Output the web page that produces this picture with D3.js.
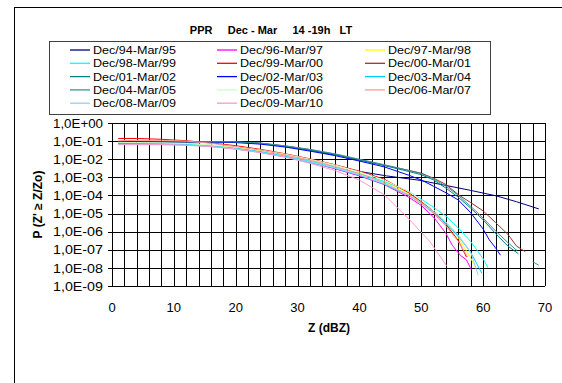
<!DOCTYPE html>
<html><head><meta charset="utf-8">
<script src="https://cdn.jsdelivr.net/npm/d3@7"></script>
<style>body{margin:0;background:#fff}svg{display:block;font-family:"Liberation Sans",Arial,sans-serif}</style>
</head><body><svg id="c" width="562" height="383"></svg>
<script>
// ---- data: [Z (dBZ), P(Z' >= Z/Zo)], null = gap ----
const dec94 = [[1,9.5e-2],[4,9.5e-2],[8,9.3e-2],[12,9.3e-2],[16,9.3e-2],[20,9.1e-2],[24,7.4e-2],[28,5.2e-2],[32,3.2e-2],[36,1.7e-2],[38,null],[40.4,2.0e-3],[44.4,1.2e-3],[49.8,6.8e-4],[54.1,3.5e-4],[58,1.9e-4],[62.2,9.3e-5],[65.4,4.5e-5],[69,1.8e-5]];
const dec96 = [[1,8.9e-2],[4,8.9e-2],[8,8.5e-2],[12,7.6e-2],[16,6.0e-2],[20,4.2e-2],[24,2.6e-2],[28,1.4e-2],[32,6.8e-3],[36,3.0e-3],[40,1.2e-3],[44,4.0e-4],[48,7.9e-5],[50,2.8e-5],[52,6.3e-6],[54,7.9e-7],[55,1.8e-7],[56.3,5.0e-8],[57.3,2.8e-8],[58.1,7.9e-9]];
const dec97 = [[1,7.9e-2],[4,7.9e-2],[8,7.9e-2],[12,7.2e-2],[16,6.0e-2],[20,4.5e-2],[24,3.0e-2],[28,1.7e-2],[32,8.5e-3],[36,4.0e-3],[40,1.7e-3],[44,5.6e-4],[48,1.3e-4],[50,4.5e-5],[52,1.3e-5],[54,2.8e-6],[56,4.5e-7],[58,3.5e-8],[58.7,1.1e-8]];
const dec98 = [[1,7.6e-2],[4,7.6e-2],[8,7.4e-2],[12,6.8e-2],[16,5.5e-2],[20,4.0e-2],[24,2.6e-2],[28,1.5e-2],[32,7.9e-3],[36,3.8e-3],[40,1.6e-3],[44,6.0e-4],[48,1.6e-4],[50,6.3e-5],[52,2.2e-5],[54,7.1e-6],[56,1.6e-6],[58,2.8e-7],[60,3.2e-8],[60.8,1.0e-8]];
const dec99 = [[1,1.4e-1],[4,1.4e-1],[8,1.26e-1],[12,1.05e-1],[16,7.9e-2],[20,5.6e-2],[24,3.5e-2],[28,2.0e-2],[32,1.05e-2],[36,5.0e-3],[40,2.2e-3],[44,7.9e-4],[48,1.4e-4],[50,4.5e-5],[52,1.3e-5],[54,2.5e-6],[56,3.2e-7],[57.3,4.0e-8]];
const dec00 = [[1,7.9e-2],[4,8.3e-2],[8,8.7e-2],[12,8.9e-2],[16,9.1e-2],[20,8.9e-2],[24,7.6e-2],[28,5.4e-2],[32,3.4e-2],[36,1.9e-2],[40,9.3e-3],[44,4.7e-3],[48,2.4e-3],[50,1.7e-3],[52,8.9e-4],[54,4.0e-4],[56,1.1e-4],[58,4.0e-5],[60,1.4e-5],[62,3.2e-6],[64,7.1e-7],[65.4,1.6e-7],[66.8,7.9e-8]];
const dec01 = [[1,7.6e-2],[4,7.9e-2],[8,8.5e-2],[12,8.9e-2],[16,9.1e-2],[20,8.7e-2],[24,7.4e-2],[28,5.2e-2],[32,3.2e-2],[36,1.8e-2],[40,8.9e-3],[44,4.5e-3],[48,2.1e-3],[50,1.4e-3],[52,7.1e-4],[54,2.5e-4],[56,7.9e-5],[58,2.0e-5],[60,4.5e-6],[62,7.9e-7],[64,1.6e-7],[65.7,6.0e-8]];
const dec02 = [[1,8.9e-2],[4,8.9e-2],[8,9.1e-2],[12,9.1e-2],[16,8.9e-2],[20,8.3e-2],[24,6.8e-2],[28,4.7e-2],[32,2.8e-2],[36,1.6e-2],[40,7.9e-3],[44,3.8e-3],[48,1.3e-3],[50,7.1e-4],[52,3.2e-4],[54,1.4e-4],[56,5.6e-5],[58,1.1e-5],[60,1.4e-6],[61,3.5e-7],[62,1.3e-7],[62.8,5.0e-8]];
const dec03 = [[1,7.1e-2],[4,7.1e-2],[8,6.9e-2],[12,6.3e-2],[16,5.1e-2],[20,3.7e-2],[24,2.4e-2],[28,1.35e-2],[32,6.8e-3],[36,3.2e-3],[40,1.3e-3],[44,4.2e-4],[48,1.0e-4],[50,3.5e-5],[52,1.1e-5],[54,2.8e-6],[56,5.6e-7],[58,7.1e-8],[59.8,5.0e-9]];
const dec04 = [[1,8.3e-2],[4,8.5e-2],[8,8.9e-2],[12,9.1e-2],[16,9.3e-2],[20,9.1e-2],[24,7.8e-2],[28,5.5e-2],[32,3.5e-2],[36,2.0e-2],[40,1.0e-2],[44,5.0e-3],[48,2.4e-3],[50,1.6e-3],[52,8.3e-4],[54,3.2e-4],[56,1.0e-4],[58,2.5e-5],[60,5.6e-6],[62,1.1e-6],[64,2.5e-7],[65.5,8.9e-8],[66.5,null],[68,2.2e-8],[69,1.4e-8]];
const dec05 = [[1,8.3e-2],[4,8.3e-2],[8,8.1e-2],[12,7.4e-2],[16,6.2e-2],[20,4.7e-2],[24,3.2e-2],[28,1.9e-2],[32,1.0e-2],[36,4.8e-3],[40,2.0e-3],[44,7.1e-4],[48,1.6e-4],[50,5.6e-5],[52,1.6e-5],[54,3.5e-6],[56,6.3e-7],[57.5,1.3e-7]];
const dec06 = [[1,1.05e-1],[4,1.1e-1],[8,1.1e-1],[12,1.0e-1],[16,7.6e-2],[20,5.0e-2],[24,3.2e-2],[28,1.7e-2],[32,8.9e-3],[36,4.0e-3],[40,1.6e-3],[44,5.0e-4],[48,1.0e-4],[50,3.5e-5],[52,1.0e-5],[54,2.0e-6],[56,2.8e-7],[57.5,4.0e-8]];
const dec08 = [[1,6.3e-2],[4,6.3e-2],[8,6.3e-2],[12,5.9e-2],[16,5.0e-2],[20,3.7e-2],[24,2.4e-2],[28,1.35e-2],[32,7.1e-3],[36,3.3e-3],[40,1.35e-3],[44,4.5e-4],[48,1.1e-4],[50,4.0e-5],[52,1.3e-5],[54,3.2e-6],[56,6.3e-7],[58,7.1e-8],[59.2,4.0e-9]];
const dec09 = [[1,6.6e-2],[4,6.6e-2],[8,6.5e-2],[12,6.0e-2],[16,5.0e-2],[20,3.6e-2],[24,2.3e-2],[28,1.3e-2],[32,6.0e-3],[36,2.4e-3],[40,7.1e-4],[44,1.1e-4],[48,5.0e-6],[51.4,2.8e-7],[54.1,1.3e-8]];

const seriesNames = ["Dec/94-Mar/95","Dec/96-Mar/97","Dec/97-Mar/98","Dec/98-Mar/99","Dec/99-Mar/00","Dec/00-Mar/01","Dec/01-Mar/02","Dec/02-Mar/03","Dec/03-Mar/04","Dec/04-Mar/05","Dec/05-Mar/06","Dec/06-Mar/07","Dec/08-Mar/09","Dec/09-Mar/10"];
const seriesData = [dec94,dec96,dec97,dec98,dec99,dec00,dec01,dec02,dec03,dec04,dec05,dec06,dec08,dec09];
const seriesColors = ["#000080","#FF00FF","#FFFF00","#00FFFF","#FF0000","#993333","#008080","#0000FF","#00CCFF","#339999","#CCFFCC","#FF9999","#99CCFF","#FF99CC"];
const xTicks = [0,10,20,30,40,50,60,70];
const yTicks = [1e0,1e-1,1e-2,1e-3,1e-4,1e-5,1e-6,1e-7,1e-8,1e-9];
const yTickLabels = ["1,0E+00","1,0E-01","1,0E-02","1,0E-03","1,0E-04","1,0E-05","1,0E-06","1,0E-07","1,0E-08","1,0E-09"];
const titleText = "PPR     Dec - Mar     14 -19h   LT";

// ---- drawing ----
const svg = d3.select("#c");
svg.append("rect").attr("width",562).attr("height",383).attr("fill","#fff");
// outer chart frame
svg.append("rect").attr("x",14.5).attr("y",7.5).attr("width",600).attr("height",400)
  .attr("fill","none").attr("stroke","#000");

const L=112, R=545, T=123, B=286;
const x = d3.scaleLinear().domain([0,70]).range([L,R]);
const y = d3.scaleLog().domain([1e-9,1]).range([B,T]);

// title
svg.append("text").attr("x",271).attr("y",34).attr("text-anchor","middle")
  .attr("font-size",11).attr("font-weight","bold").style("white-space","pre").text(titleText);

// legend
const lg = svg.append("g");
lg.append("rect").attr("x",49.5).attr("y",41.5).attr("width",441).attr("height",73)
  .attr("fill","#fff").attr("stroke","#404040");
const colX = [70,217,365], rowY0 = 50, rowH = 13.3;
seriesNames.forEach((n,i)=>{
  const cx = colX[i%3], cy = rowY0 + Math.floor(i/3)*rowH;
  lg.append("line").attr("x1",cx).attr("x2",cx+20).attr("y1",cy).attr("y2",cy)
    .attr("stroke",seriesColors[i]).attr("stroke-width",1.3);
  lg.append("text").attr("x",cx+23).attr("y",cy).attr("dy","0.36em")
    .attr("font-size",11.5).attr("textLength",83).attr("lengthAdjust","spacingAndGlyphs")
    .attr("fill","#000").text(n);
});

// gridlines
const g = svg.append("g");
const vGrid = d3.range(0,71,2);
g.selectAll("line.v").data(vGrid).join("line")
  .attr("x1",d=>Math.round(x(d))+0.5).attr("x2",d=>Math.round(x(d))+0.5)
  .attr("y1",T).attr("y2",B).attr("stroke","#000").attr("stroke-width",1);
g.selectAll("line.h").data(yTicks).join("line")
  .attr("x1",L-4).attr("x2",R).attr("y1",d=>Math.round(y(d))+0.5).attr("y2",d=>Math.round(y(d))+0.5)
  .attr("stroke","#000").attr("stroke-width",1);

// y tick labels
svg.append("g").selectAll("text").data(yTicks).join("text")
  .attr("x",L-9).attr("y",d=>y(d)).attr("dy","0.36em").attr("text-anchor","end")
  .attr("font-size",13).attr("textLength",50).attr("lengthAdjust","spacingAndGlyphs")
  .text((d,i)=>yTickLabels[i]);
// x tick labels
svg.append("g").selectAll("text").data(xTicks).join("text")
  .attr("x",d=>x(d)).attr("y",307).attr("dy","0.36em").attr("text-anchor","middle")
  .attr("font-size",13).text(d=>d);

// axis titles
svg.append("text").attr("x",329).attr("y",328).attr("dy","0.36em").attr("text-anchor","middle")
  .attr("font-size",12).attr("font-weight","bold").text("Z (dBZ)");
svg.append("text").attr("transform",`translate(38,${(T+B)/2}) rotate(-90)`)
  .attr("dy","0.36em").attr("text-anchor","middle")
  .attr("font-size",12).attr("font-weight","bold").text("P (Z' \u2265 Z/Zo)");

// clip + lines
svg.append("clipPath").attr("id","pc").append("rect").attr("x",L).attr("y",T).attr("width",R-L+1).attr("height",B-T+1);
const line = d3.line().defined(d=>d[1]!=null).x(d=>x(d[0])).y(d=>y(d[1]));
svg.append("g").attr("clip-path","url(#pc)").selectAll("path").data(seriesData).join("path")
  .attr("d",line).attr("fill","none").attr("stroke",(d,i)=>seriesColors[i]).attr("stroke-width",1);
</script></body></html>
